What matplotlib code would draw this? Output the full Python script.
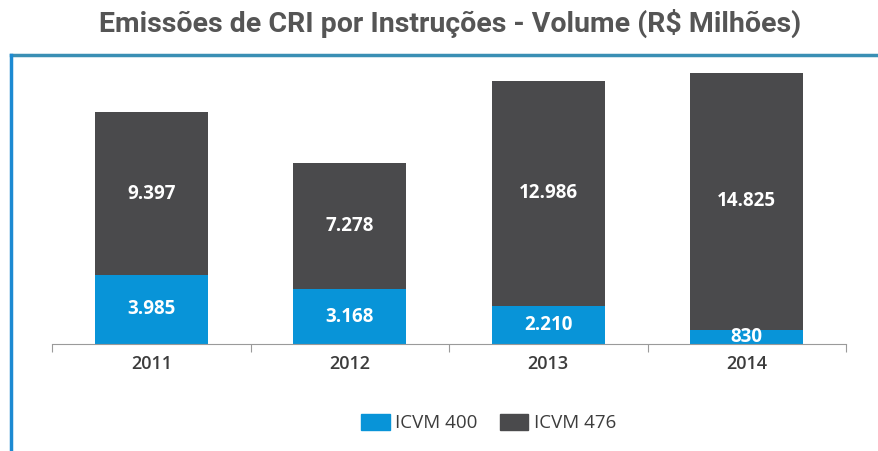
import matplotlib
matplotlib.use("Agg")
import matplotlib.pyplot as plt
from matplotlib.patches import Rectangle
from matplotlib.lines import Line2D
import numpy as np

# dados (R$ milhões)
anos = ['2011', '2012', '2013', '2014']
icvm400 = [3985, 3168, 2210, 830]
icvm476 = [9397, 7278, 12986, 14825]
rotulos400 = ['3.985', '3.168', '2.210', '830']
rotulos476 = ['9.397', '7.278', '12.986', '14.825']

azul = '#0894d8'
cinza = '#4a4a4c'

plt.rcParams['font.family'] = ['Open Sans', 'DejaVu Sans']

fig = plt.figure(figsize=(8.79, 4.51), dpi=100)
ax = fig.add_axes([0.0592, 0.2373, 0.9033, 0.6141])

x = np.arange(len(anos))
w = 0.57
ax.bar(x, icvm400, w, color=azul, label='ICVM 400')
ax.bar(x, icvm476, w, bottom=icvm400, color=cinza, label='ICVM 476')

for i in range(len(anos)):
    ax.text(x[i], icvm400[i] / 2, rotulos400[i], ha='center', va='center',
            color='white', fontsize=13.5, fontweight='bold')
    ax.text(x[i], icvm400[i] + icvm476[i] / 2, rotulos476[i], ha='center',
            va='center', color='white', fontsize=13.5, fontweight='bold')

ax.set_xlim(-0.5, 3.5)
ax.set_ylim(0, 16000)
ax.set_yticks([])
for s in ['top', 'right', 'left']:
    ax.spines[s].set_visible(False)
ax.spines['bottom'].set_color('#9a9a9a')
ax.set_xticks([-0.5, 0.5, 1.5, 2.5, 3.5])
ax.set_xticklabels([])
ax.tick_params(axis='x', length=6, color='#9a9a9a')
ax.set_xticks(x, minor=True)
ax.set_xticklabels(anos, minor=True, fontweight='semibold')
ax.tick_params(axis='x', which='minor', length=0, pad=8, labelsize=13,
               labelcolor='#3c3c3c')

# legenda
handles = [Rectangle((0, 0), 1, 1, color=azul), Rectangle((0, 0), 1, 1, color=cinza)]
fig.legend(handles, ['ICVM 400', 'ICVM 476'], loc='center', ncol=2,
           bbox_to_anchor=(0.556, 0.062), frameon=False, fontsize=13.5,
           handlelength=1.5, handleheight=1.0, handletextpad=0.3,
           columnspacing=1.2, labelcolor='#3c3c3c')

# título
fig.text(0.512, 0.948, 'Emissões de CRI por Instruções - Volume (R$ Milhões)',
         ha='center', va='center', fontsize=20.5, fontweight='bold',
         color='#555555', family=['Roboto', 'DejaVu Sans'])

# moldura
fig.add_artist(Line2D([0.0125, 1.0], [0.879, 0.879], transform=fig.transFigure,
                      color='#3a8fb4', lw=2.5))
fig.add_artist(Line2D([0.0125, 0.0125], [0.0, 0.879], transform=fig.transFigure,
                      color='#1c8ad2', lw=2.5))

fig.savefig('out.png', dpi=100)
